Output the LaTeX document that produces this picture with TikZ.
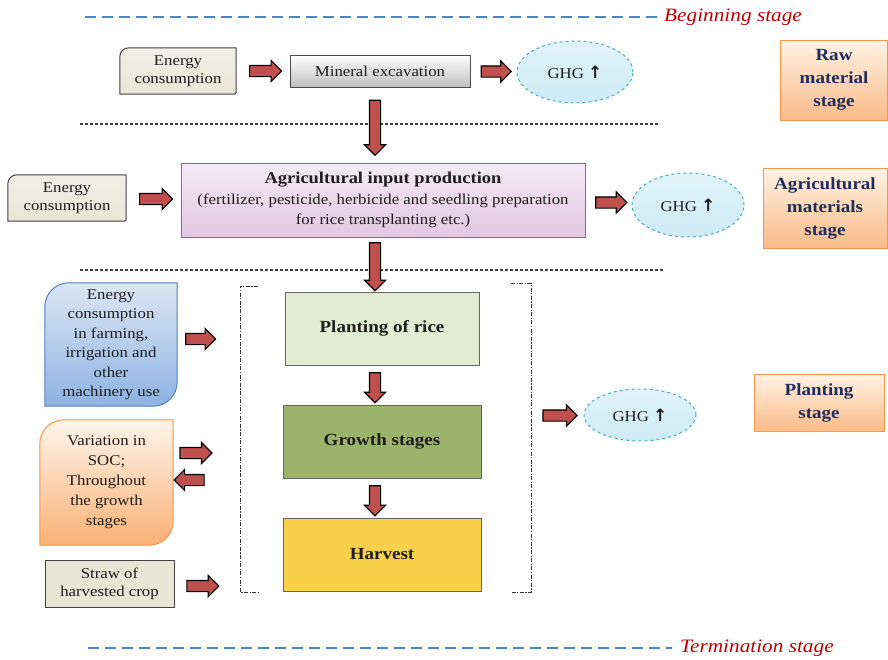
\documentclass[tikz,border=0pt]{standalone}
\usepackage{fontspec}
\setmainfont{Liberation Serif}[FakeStretch=1.12]
\newfontfamily\symf{DejaVu Sans}
\usetikzlibrary{shapes.geometric,shapes.arrows,calc,backgrounds}
\definecolor{arrowred}{HTML}{C0504D}
\definecolor{txt}{HTML}{1E1E1E}
\definecolor{navy}{HTML}{1F2D5C}
\definecolor{stagered}{HTML}{C00000}
\definecolor{lineblue}{HTML}{4A86C8}
\definecolor{beige}{HTML}{E8E6D6}
\definecolor{ghgfill}{HTML}{CDEBF5}
\definecolor{ghgline}{HTML}{4BACC6}
\definecolor{orgline}{HTML}{F79646}
\definecolor{bluetop}{HTML}{DCE6F4}
\definecolor{bluebot}{HTML}{8DB3E2}
\definecolor{blueline}{HTML}{4F81BD}
\definecolor{plantfill}{HTML}{E3ECD3}
\definecolor{growfill}{HTML}{9BB36B}
\definecolor{harvfill}{HTML}{F9D04A}
\newcommand{\upar}{{\symf\bfseries\fontsize{17}{17}\selectfont ↑}}
\tikzset{
  body/.style={font=\fontsize{15}{18}\selectfont, text=txt, align=center},
  energybox/.style={body, inner sep=0pt},
  ghg/.style={ellipse, draw=ghgline, dashed, line width=1pt, top color=ghgfill!60, bottom color=ghgfill, body, inner sep=0pt},
  stagebox/.style={draw=orgline, line width=1pt, top color=orange!10, bottom color=orgline!65, font=\fontsize{17}{23}\selectfont\bfseries, text=navy, align=center, inner sep=0pt, drop shadow style},
  drop shadow style/.style={},
  rarr/.style={single arrow, draw=black, line width=1.1pt, fill=arrowred, minimum height=#1, minimum width=20pt, single arrow head extend=5pt, single arrow head indent=0pt, inner xsep=0pt, inner ysep=5pt},
  darr/.style={rarr=#1, shape border rotate=270, inner xsep=5pt, inner ysep=0pt},
  larr/.style={rarr=#1, shape border rotate=180},
  stageline/.style={lineblue, line width=2.5pt, dash pattern=on 11pt off 6pt},
  sepline/.style={black!75, line width=1.2pt, dash pattern=on 3pt off 2pt},
  bracket/.style={black!80, line width=1pt, dash pattern=on 4pt off 1.5pt on 1.2pt off 1.5pt},
  stagetext/.style={font=\fontsize{19}{22}\selectfont\itshape, text=stagered, anchor=west, inner sep=0pt},
  rice/.style={body, draw=black!60, line width=1pt, minimum width=198pt, minimum height=73pt, font=\fontsize{17}{20}\selectfont\bfseries}
}
\newcommand{\cornerpath}[3]{%
  ($(#1.north west)+(0,#2)$) .. controls ($(#1.north west)+(0,0.45*#2)$) and ($(#1.north west)+(0.45*#2,0)$) .. ($(#1.north west)+(#2,0)$)
  -- (#1.north east)
  -- ($(#1.south east)+(0,-#3)$) .. controls ($(#1.south east)+(0,-0.45*#3)$) and ($(#1.south east)+(-0.45*#3,0)$) .. ($(#1.south east)+(-#3,0)$)
  -- (#1.south west) -- cycle}
\begin{document}
\begin{tikzpicture}[x=1pt,y=-1pt]
\useasboundingbox (0,0) rectangle (888,659);

% stage lines
\draw[stageline] (85,17) -- (660,17);
\node[stagetext] (begin) at (664,17) {Beginning stage};
\draw[stageline] (88,648) -- (672,648);
\node[stagetext] (term) at (680,648) {Termination stage};
\draw[sepline] (80,124) -- (660,124);
\draw[sepline] (80,270) -- (663,270);

% row 1
\node[energybox, minimum width=116pt, minimum height=46pt] (e1) at (178,71) {Energy\\consumption};
\node[body, draw=black!70, line width=1pt, top color=white, bottom color=black!25, minimum width=180pt, minimum height=32pt, inner sep=0pt] (mine) at (380,71) {Mineral excavation};
\node[ghg, minimum width=116pt, minimum height=62pt] (ghg1) at (575,72) {GHG \upar};
\node[stagebox, minimum width=107pt, minimum height=80pt] (raw) at (834,80) {Raw\\material\\stage};

% row 2
\node[energybox, minimum width=118pt, minimum height=46pt] (e2) at (67,198) {Energy\\consumption};
\node[body, draw=black!45!violet!60, line width=1pt, top color=violet!8, bottom color=violet!22, minimum width=404pt, minimum height=74pt, inner sep=0pt, font=\fontsize{15}{20.5}\selectfont] (agri) at (383,200)
  {{\fontsize{16.5}{20.5}\selectfont\bfseries Agricultural input production}\\(fertilizer, pesticide, herbicide and seedling preparation\\for rice transplanting etc.)};
\node[ghg, minimum width=112pt, minimum height=64pt] (ghg2) at (688,205) {GHG \upar};
\node[stagebox, minimum width=124pt, minimum height=80pt] (agst) at (825,208) {Agricultural\\materials\\stage};

% row 3
\node[body, inner sep=0pt, minimum width=132pt, minimum height=123pt, font=\fontsize{15}{19.5}\selectfont] (blue) at (111,344.5) {Energy\\consumption\\in farming,\\irrigation and\\other\\machinery use};
\node[body, inner sep=0pt, minimum width=133pt, minimum height=125pt, font=\fontsize{15}{20}\selectfont] (soc) at (106.5,482.5) {Variation in\\SOC;\\Throughout\\the growth\\stages};
\node[body, draw=black!75, line width=1pt, fill=beige, minimum width=129pt, minimum height=47pt, inner sep=0pt] (straw) at (109.5,583.5) {Straw of\\harvested crop};

\node[rice, fill=plantfill, minimum width=194pt] (plant) at (382,328.5) {Planting of rice};
\node[rice, fill=growfill] (growth) at (382,441.5) {Growth stages};
\node[rice, fill=harvfill] (harv) at (382,554.5) {Harvest};

\node[ghg, minimum width=112pt, minimum height=52pt] (ghg3) at (640,415) {GHG \upar};
\node[stagebox, minimum width=130pt, minimum height=57pt] (plst) at (819,402.5) {Planting\\stage};

% bracket
\coordinate (bl) at (240,439);
\coordinate (br) at (531,439);
\draw[bracket] (258,286) -- (240,286) -- (240,592) -- (258,592);
\draw[bracket] (511,283) -- (531,283) -- (531,592) -- (511,592);

% backgrounds of shaped boxes
\begin{pgfonlayer}{background}
  \shade[top color=beige!60, bottom color=beige, draw=black!75, line width=1pt] \cornerpath{e1}{9}{2};
  \shade[top color=beige!60, bottom color=beige, draw=black!75, line width=1pt] \cornerpath{e2}{9}{2};
  \shade[top color=bluetop, bottom color=bluebot, draw=blueline, line width=1pt] \cornerpath{blue}{24}{24};
  \shade[top color=orange!8, bottom color=orgline!75, draw=orgline, line width=1pt] \cornerpath{soc}{24}{24};
\end{pgfonlayer}

% connectors (block arrows)
\path (e1.east) -- (mine.west) node[midway, rarr=32pt] (a1) {};
\path (mine.east) -- (ghg1.west) node[midway, rarr=30pt] (a2) {};
\path ($(mine.south)+(-5,0)$) -- ($(agri.north)+(-8,0)$) node[midway, darr=55pt] (v1) {};
\path (e2.east) -- (agri.west) node[midway, rarr=33pt] (a3) {};
\path (agri.east) -- (ghg2.west) node[midway, rarr=31pt] (a4) {};
\path ($(agri.south)+(-8,3)$) -- ($(plant.north)+(-7,-4)$) node[midway, darr=48pt] (v2) {};
\path (blue.east |- 0,339) -- (bl |- 0,339) node[pos=0.33, rarr=30pt] (a5) {};
\path (soc.east |- 0,453) -- (bl |- 0,453) node[pos=0.3, rarr=32pt] (a6) {};
\path (soc.east |- 0,480) -- (bl |- 0,480) node[pos=0.28, larr=30pt] (a7) {};
\path (straw.east |- 0,586) -- (bl |- 0,586) node[pos=0.39, rarr=32pt] (a8) {};
\path ($(plant.south)+(-7,0)$) -- ($(growth.north)+(-7,0)$) node[midway, darr=30pt] (d1) {};
\path ($(growth.south)+(-7,0)$) -- ($(harv.north)+(-7,0)$) node[midway, darr=30pt] (d2) {};
\path (br |- 0,416) -- (ghg3.west) node[midway, rarr=34pt] (a9) {};
\end{tikzpicture}
\end{document}
